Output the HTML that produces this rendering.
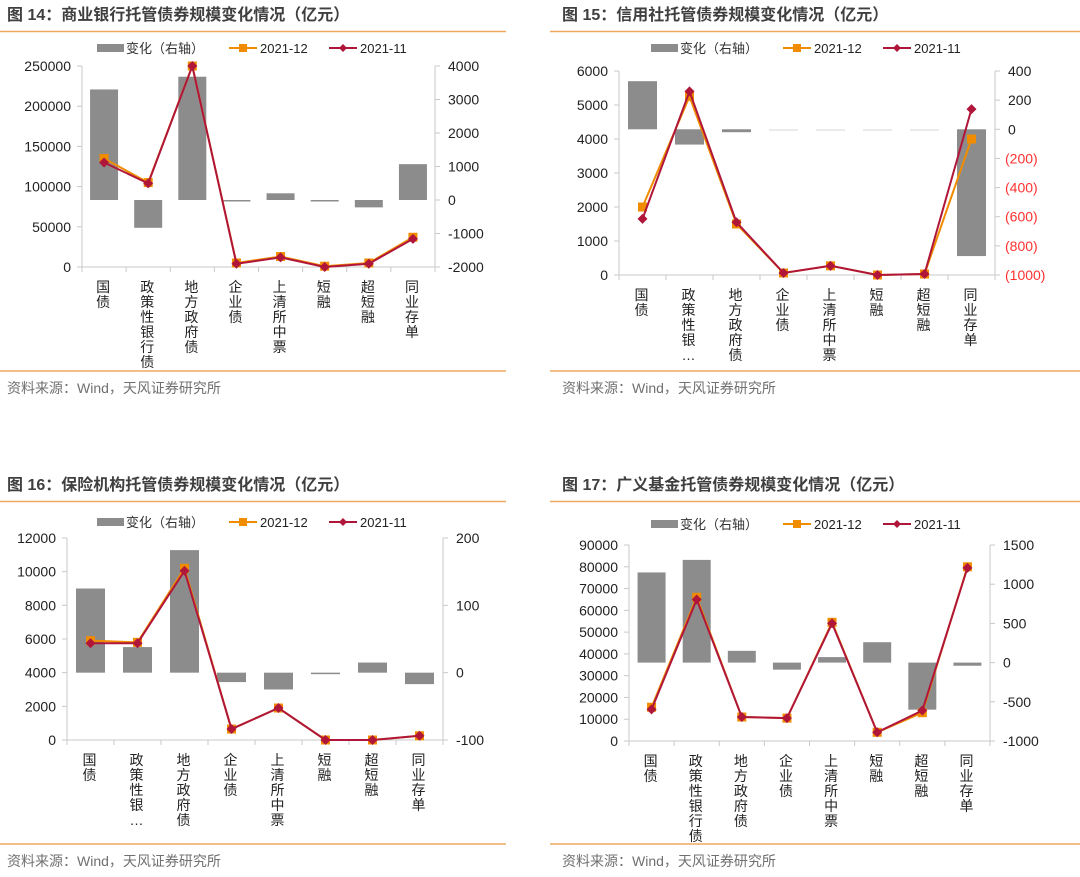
<!DOCTYPE html>
<html><head><meta charset="utf-8">
<style>
html,body{margin:0;padding:0;background:#fff;}
svg{display:block;font-family:"Liberation Sans","Noto Sans CJK SC",sans-serif;}
</style></head>
<body>
<svg id="root" width="1080" height="877" viewBox="0 0 1080 877" xmlns="http://www.w3.org/2000/svg"></svg>
<script>
const categoriesFull = ['国债','政策性银行债','地方政府债','企业债','上清所中票','短融','超短融','同业存单'];
const categoriesShort = ['国债','政策性银…','地方政府债','企业债','上清所中票','短融','超短融','同业存单'];
const seriesNames = ['变化（右轴）','2021-12','2021-11'];

const c14Dec = [135000,105000,250000,5000,13000,1000,5000,37000];
const c14Nov = [130000,104000,250000,4000,12000,0,4000,35000];
const c14Chg = [3300,-830,3680,-30,200,-10,-220,1070];
const c14LeftTicks = [0,50000,100000,150000,200000,250000];
const c14RightTicks = [-2000,-1000,0,1000,2000,3000,4000];

const c15Dec = [2000,5250,1500,60,270,0,30,4000];
const c15Nov = [1650,5400,1550,60,270,0,30,4880];
const c15Chg = [330,-105,-20,-3,-3,-3,-3,-870];
const c15LeftTicks = [0,1000,2000,3000,4000,5000,6000];
const c15RightTicks = [-1000,-800,-600,-400,-200,0,200,400];

const c16Dec = [5900,5800,10200,650,1900,0,0,250];
const c16Nov = [5750,5750,10050,650,1900,0,0,250];
const c16Chg = [125,38,182,-14,-25,-1,15,-17];
const c16LeftTicks = [0,2000,4000,6000,8000,10000,12000];
const c16RightTicks = [-100,0,100,200];

const c17Dec = [15500,66000,11000,10500,54500,4000,13000,80000];
const c17Nov = [14500,65000,11000,10500,54000,4000,14000,79500];
const c17Chg = [1150,1310,150,-90,70,260,-600,-40];
const c17LeftTicks = [0,10000,20000,30000,40000,50000,60000,70000,80000,90000];
const c17RightTicks = [-1000,-500,0,500,1000,1500];

const NS='http://www.w3.org/2000/svg';
const root=document.getElementById('root');
function mk(tag,attrs,parent,text){const e=document.createElementNS(NS,tag);for(const k in attrs)e.setAttribute(k,attrs[k]);if(text!==undefined)e.textContent=text;(parent||root).appendChild(e);return e;}

function chart(cfg){
  const g=mk('g',{});
  
  
  const px=cfg.px, py=cfg.py;
  const t=mk('text',{x:px+cfg.titleX,y:py+20,'font-size':16,'font-weight':'bold',fill:'#3f3f3f'},g,cfg.title);
  
  
  const r1=mk('line',{x1:px+cfg.ruleX0,x2:px+cfg.ruleX1,y1:py+31.5,y2:py+31.5,stroke:'#f0a860','stroke-width':1.5},g);
  
  
  const r2=mk('line',{x1:px+cfg.ruleX0,x2:px+cfg.ruleX1,y1:py+cfg.botY,y2:py+cfg.botY,stroke:'#f0a860','stroke-width':1.5},g);
  
  
  const src=mk('text',{x:px+cfg.titleX,y:py+cfg.botY+22,'font-size':14,fill:'#707070'},g,'资料来源：Wind，天风证券研究所');
  
  

  const L=cfg.L+px,R=cfg.R+px,T=cfg.T+py,B=cfg.B+py;
  const yl=v=>B-(v-cfg.lMin)/(cfg.lMax-cfg.lMin)*(B-T);
  const yr=v=>B-(v-cfg.rMin)/(cfg.rMax-cfg.rMin)*(B-T);
  const n=cfg.cats.length, cw=(R-L)/n;
  const xc=i=>L+cw*(i+0.5);

  const ly=cfg.legY+py, lx=cfg.legX+px;
  const lg=mk('g',{},g);
  
  
  mk('rect',{x:lx,y:ly-4,width:27,height:8,fill:'#8c8c8c'},lg);
  mk('text',{x:lx+29,y:ly+5,'font-size':13,fill:'#333'},lg,seriesNames[0]);
  mk('line',{x1:lx+132,x2:lx+160,y1:ly,y2:ly,stroke:'#f08c00','stroke-width':2},lg);
  mk('rect',{x:lx+142,y:ly-4,width:8,height:8,fill:'#f08c00'},lg);
  mk('text',{x:lx+163,y:ly+5,'font-size':13,fill:'#222'},lg,seriesNames[1]);
  mk('line',{x1:lx+232,x2:lx+260,y1:ly,y2:ly,stroke:'#b0163a','stroke-width':2},lg);
  mk('polygon',{points:`${lx+246},${ly-4} ${lx+250},${ly} ${lx+246},${ly+4} ${lx+242},${ly}`,fill:'#b0163a'},lg);
  mk('text',{x:lx+263,y:ly+5,'font-size':13,fill:'#222'},lg,seriesNames[2]);

  mk('line',{x1:L,x2:L,y1:T,y2:B,stroke:'#c8c8c8'},g);
  mk('line',{x1:R,x2:R,y1:T,y2:B,stroke:'#c8c8c8'},g);
  cfg.lt.forEach(v=>{
    const y=yl(v);
    mk('line',{x1:L-5,x2:L,y1:y,y2:y,stroke:'#c8c8c8'},g);
    const tx=mk('text',{x:L-11,y:y+5,'font-size':14,fill:'#222','text-anchor':'end'},g,String(v));
    
    
  });
  cfg.rt.forEach(v=>{
    const y=yr(v);
    mk('line',{x1:R,x2:R+5,y1:y,y2:y,stroke:'#c8c8c8'},g);
    const neg=cfg.paren&&v<0;
    const tx=mk('text',{x:R+(neg?10:13),y:y+5,'font-size':14,fill:neg?'#ff3030':'#222'},g,neg?'('+(-v)+')':String(v));
    
    
  });

  cfg.chg.forEach((v,i)=>{
    const y0=yr(0),y1=yr(v);
    const h=Math.max(Math.abs(y1-y0),1.5);
    const b=mk('rect',{x:xc(i)-cfg.bw/2,y:Math.min(y0,y1),width:cfg.bw,height:h,fill:Math.abs(v)<5&&cfg.faint?'#e4e4e4':'#8c8c8c'},g);
    
    
  });
  mk('line',{x1:L,x2:R,y1:B,y2:B,stroke:'#c8c8c8'},g);
  for(let i=0;i<=n;i++){mk('line',{x1:L+cw*i,x2:L+cw*i,y1:B,y2:B+5,stroke:'#c8c8c8'},g);}
  cfg.cats.forEach((c,i)=>{
    const chars=[...c];
    const cg=mk('g',{},g);
    
    
    chars.forEach((ch,k)=>{
      mk('text',{x:xc(i)-1,y:B+25+k*15,'font-size':14,fill:'#222','text-anchor':'middle'},cg,ch);
    });
  });
  function line(vals,color,name,marker){
    const pts=vals.map((v,i)=>xc(i)+','+yl(v)).join(' ');
    const pl=mk('polyline',{points:pts,fill:'none',stroke:color,'stroke-width':2},g);
    
    
    vals.forEach((v,i)=>{
      const x=xc(i),y=yl(v);
      let m;
      if(marker==='sq') m=mk('rect',{x:x-4.5,y:y-4.5,width:9,height:9,fill:color},g);
      else m=mk('polygon',{points:`${x},${y-5} ${x+5},${y} ${x},${y+5} ${x-5},${y}`,fill:color},g);
      
      
    });
  }
  line(cfg.dec,'#f08c00','2021-12','sq');
  line(cfg.nov,'#b0163a','2021-11','dia');
}

chart({id:'chart-14',title:'图 14：商业银行托管债券规模变化情况（亿元）',px:0,py:0,titleX:7,ruleX0:0,ruleX1:506,botY:371,
  L:82,R:435,T:66,B:267,lMin:0,lMax:250000,rMin:-2000,rMax:4000,bw:28,legX:97,legY:48,
  cats:categoriesFull,dec:c14Dec,nov:c14Nov,chg:c14Chg,lt:c14LeftTicks,rt:c14RightTicks,paren:false,faint:true});
chart({id:'chart-15',title:'图 15：信用社托管债券规模变化情况（亿元）',px:540,py:0,titleX:22,ruleX0:10,ruleX1:540,botY:371,
  L:79,R:455,T:71,B:275,lMin:0,lMax:6000,rMin:-1000,rMax:400,bw:29,legX:111,legY:48,
  cats:categoriesShort,dec:c15Dec,nov:c15Nov,chg:c15Chg,lt:c15LeftTicks,rt:c15RightTicks,paren:true,faint:true});
chart({id:'chart-16',title:'图 16：保险机构托管债券规模变化情况（亿元）',px:0,py:470,titleX:7,ruleX0:0,ruleX1:506,botY:374,
  L:67,R:443,T:68,B:270,lMin:0,lMax:12000,rMin:-100,rMax:200,bw:29,legX:97,legY:52,
  cats:categoriesShort,dec:c16Dec,nov:c16Nov,chg:c16Chg,lt:c16LeftTicks,rt:c16RightTicks,paren:false,faint:false});
chart({id:'chart-17',title:'图 17：广义基金托管债券规模变化情况（亿元）',px:540,py:470,titleX:22,ruleX0:10,ruleX1:540,botY:374,
  L:89,R:450,T:75,B:271,lMin:0,lMax:90000,rMin:-1000,rMax:1500,bw:28,legX:111,legY:54,
  cats:categoriesFull,dec:c17Dec,nov:c17Nov,chg:c17Chg,lt:c17LeftTicks,rt:c17RightTicks,paren:false,faint:false});
</script>
</body></html>
